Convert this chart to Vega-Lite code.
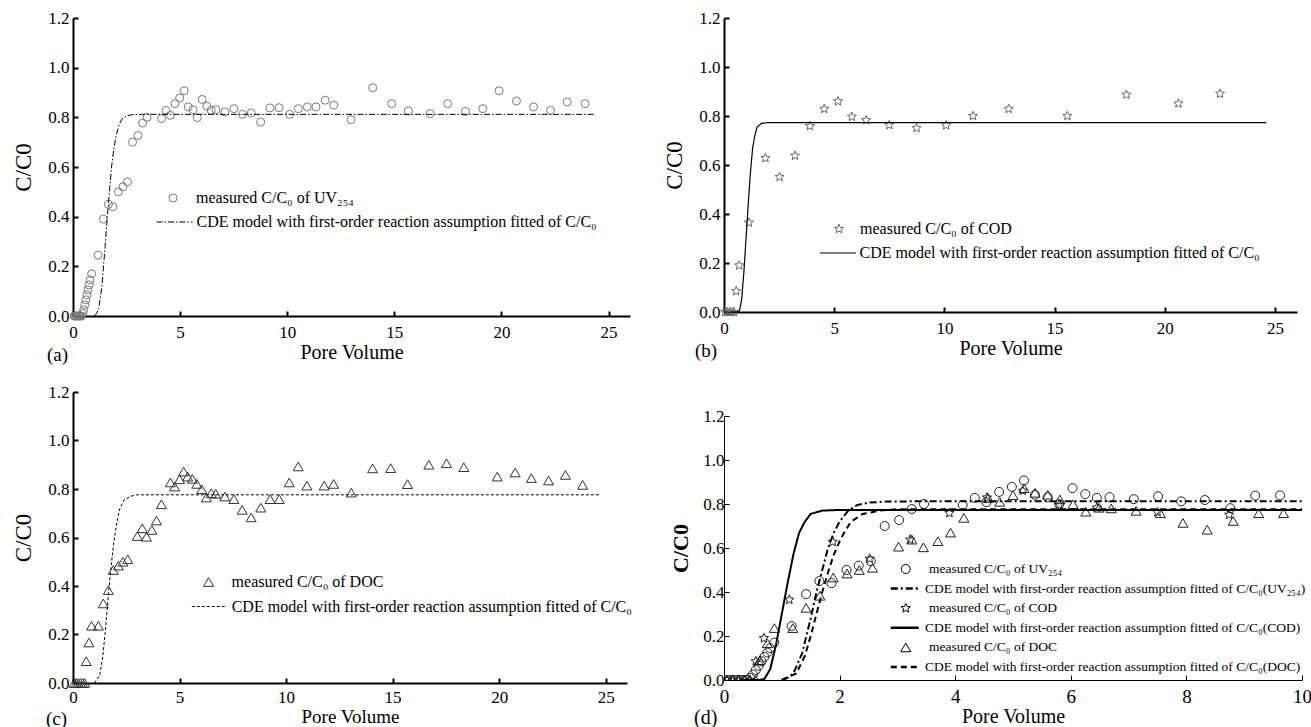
{
  "$schema": "https://vega.github.io/schema/vega-lite/v6.json",
  "padding": {"left": 12, "top": 9, "right": 0, "bottom": 0},
  "background": "white",
  "config": {
    "view": {"stroke": null},
    "axis": {"grid": false, "domainColor": "#000", "tickColor": "#000", "labelColor": "#000", "titleColor": "#000", "labelFlush": false, "labelOverlap": false},
    "legend": {"orient": "none", "title": null, "padding": 0, "labelFont": "Liberation Serif", "labelColor": "#000", "labelLimit": 0}
  },
  "datasets": {
    "measured": [
      {"s":"UV","pv":0.05,"c":0},{"s":"UV","pv":0.1,"c":0},{"s":"UV","pv":0.15,"c":0},{"s":"UV","pv":0.2,"c":0},{"s":"UV","pv":0.25,"c":0},{"s":"UV","pv":0.3,"c":0},{"s":"UV","pv":0.35,"c":0},{"s":"UV","pv":0.4,"c":0},
      {"s":"UV","pv":0.45,"c":0.01},{"s":"UV","pv":0.5,"c":0.025},{"s":"UV","pv":0.55,"c":0.045},{"s":"UV","pv":0.6,"c":0.065},{"s":"UV","pv":0.65,"c":0.085},{"s":"UV","pv":0.7,"c":0.105},{"s":"UV","pv":0.75,"c":0.125},{"s":"UV","pv":0.8,"c":0.145},{"s":"UV","pv":0.87,"c":0.17},
      {"s":"UV","pv":1.17,"c":0.245},{"s":"UV","pv":1.42,"c":0.39},{"s":"UV","pv":1.65,"c":0.45},{"s":"UV","pv":1.86,"c":0.44},{"s":"UV","pv":2.12,"c":0.5},{"s":"UV","pv":2.33,"c":0.52},{"s":"UV","pv":2.54,"c":0.54},{"s":"UV","pv":2.78,"c":0.7},{"s":"UV","pv":3.03,"c":0.727},{"s":"UV","pv":3.25,"c":0.777},{"s":"UV","pv":3.46,"c":0.8},{"s":"UV","pv":4.13,"c":0.795},{"s":"UV","pv":4.34,"c":0.828},{"s":"UV","pv":4.54,"c":0.808},{"s":"UV","pv":4.76,"c":0.855},{"s":"UV","pv":4.98,"c":0.878},{"s":"UV","pv":5.19,"c":0.907},{"s":"UV","pv":5.38,"c":0.842},{"s":"UV","pv":5.6,"c":0.831},{"s":"UV","pv":5.8,"c":0.799},{"s":"UV","pv":6.03,"c":0.872},{"s":"UV","pv":6.25,"c":0.845},{"s":"UV","pv":6.45,"c":0.828},{"s":"UV","pv":6.67,"c":0.831},{"s":"UV","pv":7.09,"c":0.822},{"s":"UV","pv":7.51,"c":0.835},{"s":"UV","pv":7.91,"c":0.812},{"s":"UV","pv":8.32,"c":0.818},{"s":"UV","pv":8.76,"c":0.781},{"s":"UV","pv":9.19,"c":0.838},{"s":"UV","pv":9.62,"c":0.839},{"s":"UV","pv":10.11,"c":0.812},{"s":"UV","pv":10.52,"c":0.835},{"s":"UV","pv":10.94,"c":0.842},{"s":"UV","pv":11.34,"c":0.842},{"s":"UV","pv":11.77,"c":0.869},{"s":"UV","pv":12.17,"c":0.849},{"s":"UV","pv":12.98,"c":0.791},{"s":"UV","pv":13.99,"c":0.919},{"s":"UV","pv":14.88,"c":0.855},{"s":"UV","pv":15.65,"c":0.826},{"s":"UV","pv":16.67,"c":0.815},{"s":"UV","pv":17.49,"c":0.855},{"s":"UV","pv":18.32,"c":0.824},{"s":"UV","pv":19.13,"c":0.835},{"s":"UV","pv":19.89,"c":0.907},{"s":"UV","pv":20.7,"c":0.866},{"s":"UV","pv":21.5,"c":0.842},{"s":"UV","pv":22.29,"c":0.828},{"s":"UV","pv":23.07,"c":0.862},{"s":"UV","pv":23.9,"c":0.855},
      {"s":"COD","pv":0.05,"c":0},{"s":"COD","pv":0.15,"c":0},{"s":"COD","pv":0.25,"c":0},{"s":"COD","pv":0.35,"c":0},{"s":"COD","pv":0.45,"c":0},{"s":"COD","pv":0.55,"c":0.085},{"s":"COD","pv":0.69,"c":0.19},{"s":"COD","pv":1.13,"c":0.365},{"s":"COD","pv":1.88,"c":0.628},{"s":"COD","pv":2.52,"c":0.551},{"s":"COD","pv":3.22,"c":0.638},{"s":"COD","pv":3.9,"c":0.759},{"s":"COD","pv":4.55,"c":0.829},{"s":"COD","pv":5.17,"c":0.86},{"s":"COD","pv":5.8,"c":0.797},{"s":"COD","pv":6.45,"c":0.783},{"s":"COD","pv":7.5,"c":0.763},{"s":"COD","pv":8.74,"c":0.751},{"s":"COD","pv":10.08,"c":0.762},{"s":"COD","pv":11.3,"c":0.8},{"s":"COD","pv":12.92,"c":0.829},{"s":"COD","pv":15.58,"c":0.8},{"s":"COD","pv":18.26,"c":0.887},{"s":"COD","pv":20.62,"c":0.851},{"s":"COD","pv":22.51,"c":0.891},
      {"s":"DOC","pv":0.05,"c":0},{"s":"DOC","pv":0.15,"c":0},{"s":"DOC","pv":0.25,"c":0},{"s":"DOC","pv":0.35,"c":0},{"s":"DOC","pv":0.45,"c":0},{"s":"DOC","pv":0.55,"c":0},{"s":"DOC","pv":0.62,"c":0.09},{"s":"DOC","pv":0.75,"c":0.167},{"s":"DOC","pv":0.87,"c":0.236},{"s":"DOC","pv":1.19,"c":0.236},{"s":"DOC","pv":1.42,"c":0.328},{"s":"DOC","pv":1.66,"c":0.383},{"s":"DOC","pv":1.89,"c":0.466},{"s":"DOC","pv":2.13,"c":0.484},{"s":"DOC","pv":2.34,"c":0.5},{"s":"DOC","pv":2.57,"c":0.51},{"s":"DOC","pv":3.02,"c":0.606},{"s":"DOC","pv":3.25,"c":0.638},{"s":"DOC","pv":3.45,"c":0.603},{"s":"DOC","pv":3.7,"c":0.631},{"s":"DOC","pv":3.92,"c":0.67},{"s":"DOC","pv":4.15,"c":0.737},{"s":"DOC","pv":4.57,"c":0.827},{"s":"DOC","pv":4.77,"c":0.81},{"s":"DOC","pv":5.0,"c":0.84},{"s":"DOC","pv":5.19,"c":0.872},{"s":"DOC","pv":5.38,"c":0.851},{"s":"DOC","pv":5.6,"c":0.842},{"s":"DOC","pv":5.81,"c":0.821},{"s":"DOC","pv":6.04,"c":0.799},{"s":"DOC","pv":6.26,"c":0.765},{"s":"DOC","pv":6.49,"c":0.783},{"s":"DOC","pv":6.7,"c":0.78},{"s":"DOC","pv":7.13,"c":0.769},{"s":"DOC","pv":7.55,"c":0.758},{"s":"DOC","pv":7.94,"c":0.714},{"s":"DOC","pv":8.36,"c":0.683},{"s":"DOC","pv":8.81,"c":0.723},{"s":"DOC","pv":9.25,"c":0.758},{"s":"DOC","pv":9.68,"c":0.758},{"s":"DOC","pv":10.15,"c":0.827},{"s":"DOC","pv":10.57,"c":0.893},{"s":"DOC","pv":10.98,"c":0.814},{"s":"DOC","pv":11.79,"c":0.814},{"s":"DOC","pv":12.23,"c":0.821},{"s":"DOC","pv":13.06,"c":0.785},{"s":"DOC","pv":14.06,"c":0.885},{"s":"DOC","pv":14.91,"c":0.886},{"s":"DOC","pv":15.7,"c":0.82},{"s":"DOC","pv":16.7,"c":0.9},{"s":"DOC","pv":17.53,"c":0.906},{"s":"DOC","pv":18.34,"c":0.89},{"s":"DOC","pv":19.91,"c":0.851},{"s":"DOC","pv":20.75,"c":0.868},{"s":"DOC","pv":21.51,"c":0.845},{"s":"DOC","pv":22.32,"c":0.835},{"s":"DOC","pv":23.11,"c":0.858},{"s":"DOC","pv":23.92,"c":0.817}
    ],
    "model": [
      {"s":"UV","pv":1.0,"c":0},{"s":"UV","pv":1.1,"c":0.01},{"s":"UV","pv":1.2,"c":0.03},{"s":"UV","pv":1.35,"c":0.12},{"s":"UV","pv":1.5,"c":0.28},{"s":"UV","pv":1.6,"c":0.4},{"s":"UV","pv":1.7,"c":0.5},{"s":"UV","pv":1.8,"c":0.6},{"s":"UV","pv":1.9,"c":0.67},{"s":"UV","pv":2.0,"c":0.72},{"s":"UV","pv":2.15,"c":0.77},{"s":"UV","pv":2.3,"c":0.795},{"s":"UV","pv":2.5,"c":0.806},{"s":"UV","pv":2.8,"c":0.811},{"s":"UV","pv":3.2,"c":0.812},{"s":"UV","pv":24.3,"c":0.812},
      {"s":"COD","pv":0.3,"c":0},{"s":"COD","pv":0.6,"c":0},{"s":"COD","pv":0.7,"c":0.005},{"s":"COD","pv":0.8,"c":0.05},{"s":"COD","pv":0.9,"c":0.16},{"s":"COD","pv":1.0,"c":0.3},{"s":"COD","pv":1.1,"c":0.44},{"s":"COD","pv":1.2,"c":0.57},{"s":"COD","pv":1.3,"c":0.67},{"s":"COD","pv":1.4,"c":0.72},{"s":"COD","pv":1.5,"c":0.755},{"s":"COD","pv":1.7,"c":0.77},{"s":"COD","pv":2.0,"c":0.773},{"s":"COD","pv":24.6,"c":0.773},
      {"s":"DOC","pv":1.0,"c":0},{"s":"DOC","pv":1.25,"c":0.03},{"s":"DOC","pv":1.4,"c":0.11},{"s":"DOC","pv":1.5,"c":0.2},{"s":"DOC","pv":1.6,"c":0.3},{"s":"DOC","pv":1.7,"c":0.4},{"s":"DOC","pv":1.8,"c":0.49},{"s":"DOC","pv":1.9,"c":0.57},{"s":"DOC","pv":2.0,"c":0.63},{"s":"DOC","pv":2.1,"c":0.68},{"s":"DOC","pv":2.2,"c":0.72},{"s":"DOC","pv":2.4,"c":0.755},{"s":"DOC","pv":2.7,"c":0.77},{"s":"DOC","pv":3.0,"c":0.776},{"s":"DOC","pv":24.7,"c":0.776}
    ]
  },
  "resolve": {"scale": {"x": "independent", "y": "independent", "shape": "independent", "strokeDash": "independent"}, "legend": {"shape": "independent", "strokeDash": "independent"}},
  "spacing": 30,
  "hconcat": [
    {
      "spacing": 18,
      "resolve": {"scale": {"x": "independent", "y": "independent", "shape": "independent", "strokeDash": "independent"}, "legend": {"shape": "independent", "strokeDash": "independent"}},
      "vconcat": [
        {
          "width": 557, "height": 298,
          "title": {"text": "(a)", "orient": "bottom", "anchor": "start", "frame": "group", "offset": 0, "dx": -26, "dy": -16, "fontSize": 19, "font": "Liberation Serif", "fontWeight": "normal", "color": "#000"},
          "resolve": {"scale": {"shape": "independent", "strokeDash": "independent"}, "legend": {"shape": "independent", "strokeDash": "independent"}},
          "layer": [
            {
              "data": {"name": "measured"}, "transform": [{"filter": "datum.s == 'UV'"}],
              "mark": {"type": "point", "filled": false, "size": 64, "color": "#7a7a7a", "strokeWidth": 1, "opacity": 1},
              "encoding": {
                "x": {"field": "pv", "type": "quantitative", "scale": {"domain": [0, 25]}, "axis": {"title": "Pore Volume", "values": [0,5,10,15,20,25], "format": "d", "tickSize": -5, "tickWidth": 2, "domainWidth": 2, "labelPadding": 13, "labelFont": "Liberation Serif", "labelFontSize": 17, "titleFont": "Liberation Serif", "titleFontWeight": "normal", "titleFontSize": 20, "titlePadding": 2}},
                "y": {"field": "c", "type": "quantitative", "scale": {"domain": [0, 1.2]}, "axis": {"title": "C/C0", "values": [0,0.2,0.4,0.6,0.8,1,1.2], "format": ".1f", "tickSize": -5, "tickWidth": 2, "domainWidth": 2, "labelPadding": 9, "labelFont": "Liberation Serif", "labelFontSize": 17, "titleFont": "Liberation Serif", "titleFontWeight": "normal", "titleFontSize": 23, "titlePadding": 12}},
                "shape": {"field": "s", "type": "nominal", "scale": {"domain": ["UV"], "range": ["circle"]},
                  "legend": {"legendX": 92, "legendY": 172, "labelFontSize": 16, "labelOffset": 15, "symbolSize": 64, "symbolStrokeWidth": 1, "symbolStrokeColor": "#7a7a7a", "symbolFillColor": "transparent", "labelExpr": "'measured C/C₀ of UV₂₅₄'"}}
              }
            },
            {
              "data": {"name": "model"}, "transform": [{"filter": "datum.s == 'UV'"}],
              "mark": {"type": "line", "color": "#000", "strokeWidth": 1},
              "encoding": {"x": {"field": "pv", "type": "quantitative"}, "y": {"field": "c", "type": "quantitative"},
                "strokeDash": {"field": "s", "type": "nominal", "scale": {"domain": ["UV"], "range": [[6,2,1.5,2]]},
                  "legend": {"legendX": 83, "legendY": 185.5, "labelFontSize": 16, "labelOffset": 3.5, "symbolSize": 1296, "symbolStrokeWidth": 1, "symbolStrokeColor": "#000", "labelExpr": "'CDE model with first-order reaction assumption fitted of C/C₀'"}}}
            }
          ]
        },
        {
          "width": 554, "height": 291,
          "title": {"text": "(c)", "orient": "bottom", "anchor": "start", "frame": "group", "offset": 0, "dx": -27, "dy": -16, "fontSize": 19, "font": "Liberation Serif", "fontWeight": "normal", "color": "#000"},
          "resolve": {"scale": {"shape": "independent", "strokeDash": "independent"}, "legend": {"shape": "independent", "strokeDash": "independent"}},
          "layer": [
            {
              "data": {"name": "measured"}, "transform": [{"filter": "datum.s == 'DOC'"}],
              "mark": {"type": "point", "filled": false, "size": 100, "color": "#333", "strokeWidth": 1, "opacity": 1},
              "encoding": {
                "x": {"field": "pv", "type": "quantitative", "scale": {"domain": [0, 25]}, "axis": {"title": "Pore Volume", "values": [0,5,10,15,20,25], "format": "d", "tickSize": -5, "tickWidth": 2, "domainWidth": 2, "labelPadding": 11, "labelFont": "Liberation Serif", "labelFontSize": 17, "titleFont": "Liberation Serif", "titleFontWeight": "normal", "titleFontSize": 19, "titlePadding": 2}},
                "y": {"field": "c", "type": "quantitative", "scale": {"domain": [0, 1.2]}, "axis": {"title": "C/C0", "values": [0,0.2,0.4,0.6,0.8,1,1.2], "format": ".1f", "tickSize": -5, "tickWidth": 2, "domainWidth": 2, "labelPadding": 9, "labelFont": "Liberation Serif", "labelFontSize": 17, "titleFont": "Liberation Serif", "titleFontWeight": "normal", "titleFontSize": 23, "titlePadding": 12}},
                "shape": {"field": "s", "type": "nominal", "scale": {"domain": ["DOC"], "range": ["triangle-up"]},
                  "legend": {"legendX": 127.6, "legendY": 182, "labelFontSize": 16, "labelOffset": 15, "symbolSize": 100, "symbolStrokeWidth": 1, "symbolStrokeColor": "#333", "symbolFillColor": "transparent", "labelExpr": "'measured C/C₀ of DOC'"}}
              }
            },
            {
              "data": {"name": "model"}, "transform": [{"filter": "datum.s == 'DOC'"}],
              "mark": {"type": "line", "color": "#000", "strokeWidth": 1},
              "encoding": {"x": {"field": "pv", "type": "quantitative"}, "y": {"field": "c", "type": "quantitative"},
                "strokeDash": {"field": "s", "type": "nominal", "scale": {"domain": ["DOC"], "range": [[3,2]]},
                  "legend": {"legendX": 118.3, "legendY": 197, "labelFontSize": 16, "labelOffset": 5.4, "symbolSize": 1156, "symbolStrokeWidth": 1, "symbolStrokeColor": "#000", "labelExpr": "'CDE model with first-order reaction assumption fitted of C/C₀'"}}}
            }
          ]
        }
      ]
    },
    {
      "spacing": 46,
      "resolve": {"scale": {"x": "independent", "y": "independent", "shape": "independent", "strokeDash": "independent"}, "legend": {"shape": "independent", "strokeDash": "independent"}},
      "vconcat": [
        {
          "width": 573, "height": 294,
          "title": {"text": "(b)", "orient": "bottom", "anchor": "start", "frame": "group", "offset": 0, "dx": -29, "dy": -16, "fontSize": 19, "font": "Liberation Serif", "fontWeight": "normal", "color": "#000"},
          "resolve": {"scale": {"shape": "independent", "strokeDash": "independent"}, "legend": {"shape": "independent", "strokeDash": "independent"}},
          "layer": [
            {
              "data": {"name": "measured"}, "transform": [{"filter": "datum.s == 'COD'"}],
              "mark": {"type": "point", "filled": false, "size": 90, "color": "#666", "strokeWidth": 1, "opacity": 1},
              "encoding": {
                "x": {"field": "pv", "type": "quantitative", "scale": {"domain": [0, 25]}, "axis": {"title": "Pore Volume", "values": [0,5,10,15,20,25], "format": "d", "tickSize": -5, "tickWidth": 2, "domainWidth": 2, "labelPadding": 13, "labelFont": "Liberation Serif", "labelFontSize": 17, "titleFont": "Liberation Serif", "titleFontWeight": "normal", "titleFontSize": 20, "titlePadding": 2}},
                "y": {"field": "c", "type": "quantitative", "scale": {"domain": [0, 1.2]}, "axis": {"title": "C/C0", "values": [0,0.2,0.4,0.6,0.8,1,1.2], "format": ".1f", "tickSize": -5, "tickWidth": 2, "domainWidth": 2, "labelPadding": 9, "labelFont": "Liberation Serif", "labelFontSize": 17, "titleFont": "Liberation Serif", "titleFontWeight": "normal", "titleFontSize": 23, "titlePadding": 12}},
                "shape": {"field": "s", "type": "nominal", "scale": {"domain": ["COD"], "range": ["M0,-1L0.2645,-0.3641L0.9511,-0.309L0.428,0.1391L0.5878,0.809L0,0.45L-0.5878,0.809L-0.428,0.1391L-0.9511,-0.309L-0.2645,-0.3641Z"]},
                  "legend": {"legendX": 107, "legendY": 203, "labelFontSize": 16, "labelOffset": 13, "symbolSize": 90, "symbolStrokeWidth": 1, "symbolStrokeColor": "#666", "symbolFillColor": "transparent", "labelExpr": "'measured C/C₀ of COD'"}}
              }
            },
            {
              "data": {"name": "model"}, "transform": [{"filter": "datum.s == 'COD'"}],
              "mark": {"type": "line", "color": "#000", "strokeWidth": 1.2},
              "encoding": {"x": {"field": "pv", "type": "quantitative"}, "y": {"field": "c", "type": "quantitative"},
                "strokeDash": {"field": "s", "type": "nominal", "scale": {"domain": ["COD"], "range": [[1,0]]},
                  "legend": {"legendX": 95.5, "legendY": 216.5, "labelFontSize": 16, "labelOffset": 3, "symbolSize": 1296, "symbolStrokeWidth": 1, "symbolStrokeColor": "#000", "labelExpr": "'CDE model with first-order reaction assumption fitted of C/C₀'"}}}
            }
          ]
        },
        {
          "width": 578, "height": 264,
          "title": {"text": "(d)", "orient": "bottom", "anchor": "start", "frame": "group", "offset": 0, "dx": -30, "dy": -18, "fontSize": 20, "font": "Liberation Serif", "fontWeight": "normal", "color": "#000"},
          "resolve": {"scale": {"shape": "independent", "strokeDash": "independent"}, "legend": {"shape": "independent", "strokeDash": "independent"}},
          "layer": [
            {
              "data": {"name": "measured"}, "transform": [{"filter": "datum.s == 'UV' && datum.pv <= 10"}],
              "mark": {"type": "point", "filled": false, "size": 81, "color": "#222", "strokeWidth": 1, "opacity": 1, "clip": true},
              "encoding": {
                "x": {"field": "pv", "type": "quantitative", "scale": {"domain": [0, 10]}, "axis": {"title": "Pore Volume", "values": [0,2,4,6,8,10], "format": "d", "tickSize": -5, "tickWidth": 1, "domainWidth": 1, "labelPadding": 12, "labelFont": "Liberation Serif", "labelFontSize": 19, "titleFont": "Liberation Serif", "titleFontWeight": "normal", "titleFontSize": 20, "titlePadding": 0}},
                "y": {"field": "c", "type": "quantitative", "scale": {"domain": [0, 1.2]}, "axis": {"title": "C/C0", "values": [0,0.2,0.4,0.6,0.8,1,1.2], "format": ".1f", "tickSize": -5, "tickWidth": 1, "domainWidth": 1, "labelPadding": 5, "labelFont": "Liberation Serif", "labelFontSize": 17, "titleFont": "Liberation Serif", "titleFontWeight": "bold", "titleFontSize": 22, "titlePadding": 10}},
                "shape": {"field": "s", "type": "nominal", "scale": {"domain": ["UV"], "range": ["circle"]},
                  "legend": {"legendX": 175, "legendY": 146.25, "labelFontSize": 13.5, "labelOffset": 16.5, "symbolSize": 81, "symbolStrokeWidth": 1, "symbolStrokeColor": "#000", "symbolFillColor": "transparent", "labelExpr": "'measured C/C₀ of UV₂₅₄'"}}
              }
            },
            {
              "data": {"name": "measured"}, "transform": [{"filter": "datum.s == 'COD' && datum.pv <= 10"}],
              "mark": {"type": "point", "filled": false, "size": 95, "color": "#222", "strokeWidth": 1, "opacity": 1, "clip": true},
              "encoding": {
                "x": {"field": "pv", "type": "quantitative"},
                "y": {"field": "c", "type": "quantitative"},
                "shape": {"field": "s", "type": "nominal", "scale": {"domain": ["COD"], "range": ["M0,-1L0.2645,-0.3641L0.9511,-0.309L0.428,0.1391L0.5878,0.809L0,0.45L-0.5878,0.809L-0.428,0.1391L-0.9511,-0.309L-0.2645,-0.3641Z"]},
                  "legend": {"legendX": 175, "legendY": 185.45, "labelFontSize": 13.5, "labelOffset": 16.5, "symbolSize": 95, "symbolStrokeWidth": 1, "symbolStrokeColor": "#000", "symbolFillColor": "transparent", "labelExpr": "'measured C/C₀ of COD'"}}
              }
            },
            {
              "data": {"name": "measured"}, "transform": [{"filter": "datum.s == 'DOC' && datum.pv <= 10"}],
              "mark": {"type": "point", "filled": false, "size": 100, "color": "#222", "strokeWidth": 1, "opacity": 1, "clip": true},
              "encoding": {
                "x": {"field": "pv", "type": "quantitative"},
                "y": {"field": "c", "type": "quantitative"},
                "shape": {"field": "s", "type": "nominal", "scale": {"domain": ["DOC"], "range": ["triangle-up"]},
                  "legend": {"legendX": 175, "legendY": 224.65, "labelFontSize": 13.5, "labelOffset": 16.5, "symbolSize": 100, "symbolStrokeWidth": 1, "symbolStrokeColor": "#000", "symbolFillColor": "transparent", "labelExpr": "'measured C/C₀ of DOC'"}}
              }
            },
            {
              "data": {"name": "model"}, "transform": [{"filter": "datum.s == 'UV'"}],
              "mark": {"type": "line", "color": "#000", "strokeWidth": 2, "clip": true},
              "encoding": {"x": {"field": "pv", "type": "quantitative"}, "y": {"field": "c", "type": "quantitative"},
                "strokeDash": {"field": "s", "type": "nominal", "scale": {"domain": ["UV"], "range": [[7,3,2,3]]},
                  "legend": {"legendX": 165.3, "legendY": 157.1, "labelFontSize": 13.5, "labelOffset": 4.7, "symbolSize": 784, "symbolStrokeWidth": 2.5, "symbolStrokeColor": "#000", "labelExpr": "'CDE model with first-order reaction assumption fitted of C/C₀(UV₂₅₄)'"}}}
            },
            {
              "data": {"name": "model"}, "transform": [{"filter": "datum.s == 'COD'"}],
              "mark": {"type": "line", "color": "#000", "strokeWidth": 2, "clip": true},
              "encoding": {"x": {"field": "pv", "type": "quantitative"}, "y": {"field": "c", "type": "quantitative"},
                "strokeDash": {"field": "s", "type": "nominal", "scale": {"domain": ["COD"], "range": [[1,0]]},
                  "legend": {"legendX": 165.3, "legendY": 196.3, "labelFontSize": 13.5, "labelOffset": 4.7, "symbolSize": 784, "symbolStrokeWidth": 2.5, "symbolStrokeColor": "#000", "labelExpr": "'CDE model with first-order reaction assumption fitted of C/C₀(COD)'"}}}
            },
            {
              "data": {"name": "model"}, "transform": [{"filter": "datum.s == 'DOC'"}],
              "mark": {"type": "line", "color": "#000", "strokeWidth": 2, "clip": true},
              "encoding": {"x": {"field": "pv", "type": "quantitative"}, "y": {"field": "c", "type": "quantitative"},
                "strokeDash": {"field": "s", "type": "nominal", "scale": {"domain": ["DOC"], "range": [[6,4]]},
                  "legend": {"legendX": 165.3, "legendY": 235.5, "labelFontSize": 13.5, "labelOffset": 4.7, "symbolSize": 784, "symbolStrokeWidth": 2.5, "symbolStrokeColor": "#000", "labelExpr": "'CDE model with first-order reaction assumption fitted of C/C₀(DOC)'"}}}
            }
          ]
        }
      ]
    }
  ]
}
